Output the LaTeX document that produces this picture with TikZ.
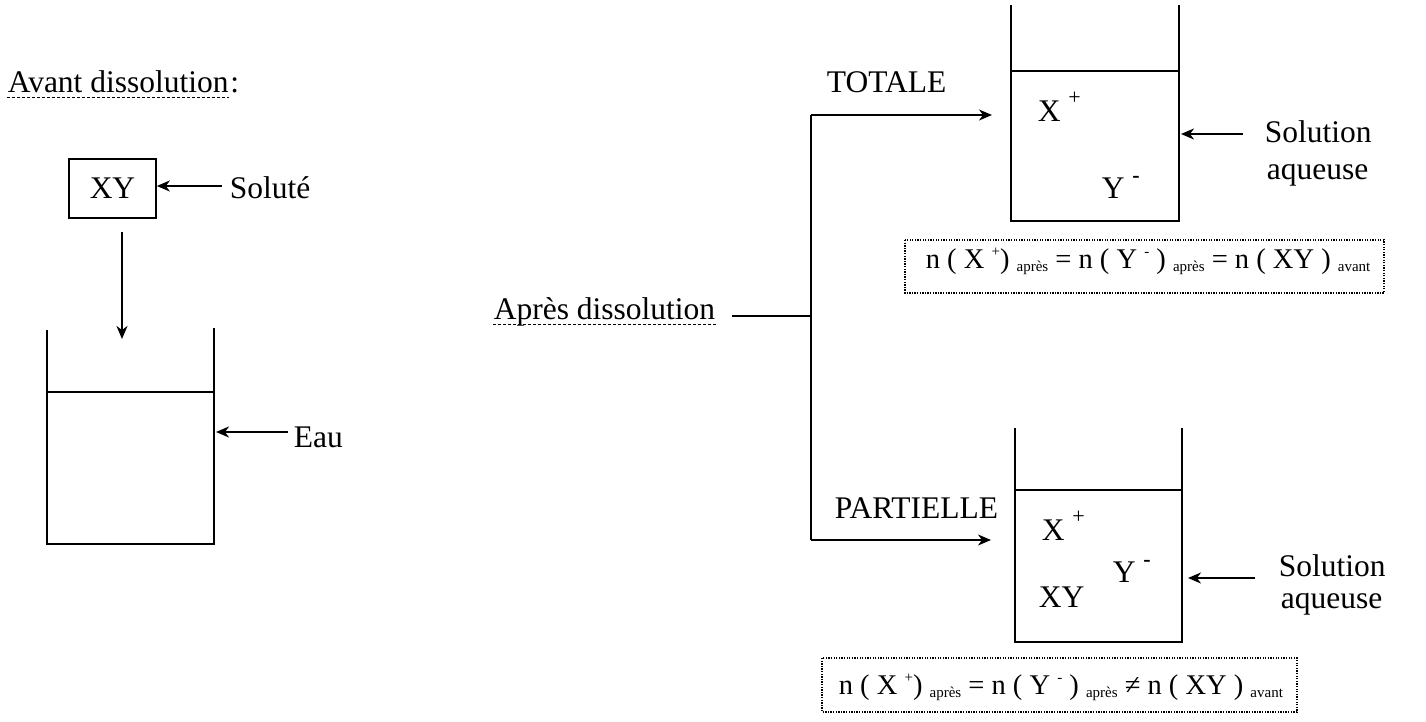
\documentclass[tikz,border=0pt]{standalone}
\usepackage{fontspec}
\setmainfont{Liberation Serif}
\usetikzlibrary{arrows.meta}
\newcommand{\fsupB}[1]{\raisebox{12pt}{\fontsize{15}{15}\selectfont #1}}
\newcommand{\fsubB}[1]{\raisebox{-3pt}{\fontsize{15}{15}\selectfont #1}}
\newcommand{\ionp}{\raisebox{17pt}{\fontsize{22}{22}\selectfont +}}
\newcommand{\ionm}{\raisebox{16pt}{\fontsize{22}{22}\selectfont\bfseries -}}
\begin{document}
\begin{tikzpicture}[x=1pt,y=-1pt,line width=1.7pt,
  txt/.style={anchor=base west,inner sep=0pt,font=\fontsize{31.5}{37}\selectfont},
  ftxt/.style={anchor=base west,inner sep=0pt,font=\fontsize{28.5}{34}\selectfont},
  arr/.style={-{Stealth[length=13pt,width=11pt,inset=4pt]}},
  ul/.style={line width=1pt,dash pattern=on 3pt off 2pt},
  dotbox/.style={line width=1.3pt,dash pattern=on 1.3pt off 1.3pt}]
\useasboundingbox (0,0) rectangle (1426,722);

% ---------- left part ----------
\node[txt] (avant) at (7,93) {Avant dissolution};
\node[txt] (colon) at (avant.base east) {:};
\draw[ul] ([yshift=-5pt]avant.base west) -- ([yshift=-5pt]avant.base east);

\node[draw,minimum width=87pt,minimum height=59pt,inner sep=0pt,
  font=\fontsize{31.5}{37}\selectfont] (xy) at (112.5,188.5) {XY};
\node[txt] (solute) at (229,198) {Soluté};
\coordinate (s0) at (222,186);
\draw[arr] (s0) -- (s0 -| xy.east);

\coordinate (d0) at (122,232);
\coordinate (d1) at (122,339);
\draw[arr] (d0) -- (d1);

\coordinate (b1tl) at (47,330);
\coordinate (b1tr) at (214,328);
\coordinate (b1bl) at (47,544);
\coordinate (b1br) at (214,544);
\draw (b1tl) -- (b1bl) -- (b1br) -- (b1tr);
\draw (47,392) -- (214,392);

\node[txt] (eau) at (293,447) {Eau};
\coordinate (e0) at (288,432);
\draw[arr] (e0) -- (216,432);

% ---------- right part ----------
\node[txt] (apres) at (493,319) {Après dissolution};
\draw[ul] ([yshift=-5pt]apres.base west) -- ([yshift=-5pt]apres.base east);
\coordinate (j0) at (732,316);
\coordinate (j1) at (811,316);
\draw (j0) -- (j1);
\coordinate (vt) at (811,115);
\coordinate (vb) at (811,540);
\draw (vt) -- (vb);

\node[txt] (totale) at (826,93) {TOTALE};
\node[txt] (partielle) at (834,518) {PARTIELLE};

% top beaker
\coordinate (b2tl) at (1011,5);
\coordinate (b2tr) at (1179,5);
\draw (b2tl) -- (1011,221) -- (1179,221) -- (b2tr);
\draw (1011,71) -- (1179,71);
\draw[arr] (vt) -- (992,115);
\node[txt] (x2) at (1037,122) {X \ionp};
\node[txt] (y2) at (1101,198) {Y \ionm};
\node[txt] (sol2a) at (1264,143) {Solution};
\node[txt] (sol2b) at (1266,180) {aqueuse};
\coordinate (a2) at (1243,134);
\draw[arr] (a2) -- (1181,134);

% bottom beaker
\coordinate (b3tl) at (1015,428);
\coordinate (b3tr) at (1182,428);
\draw (b3tl) -- (1015,642) -- (1182,642) -- (b3tr);
\draw (1015,490) -- (1182,490);
\draw[arr] (vb) -- (991,540);
\node[txt] (x3) at (1041,540) {X \ionp};
\node[txt] (y3) at (1112,582) {Y \ionm};
\node[txt] (xy3) at (1038,607) {XY};
\node[txt] (sol3a) at (1278,576) {Solution};
\node[txt] (sol3b) at (1280,608) {aqueuse};
\coordinate (a3) at (1255,578);
\draw[arr] (a3) -- (1188,578);

% formula boxes
\draw[dotbox] (905,240) rectangle (1384,293);
\node[ftxt] (f1) at (925,268)
  {n ( X \fsupB{+}) \fsubB{après} = n ( Y \fsupB{-} ) \fsubB{après} = n ( XY ) \fsubB{avant}};
\draw[dotbox] (822,658) rectangle (1297,712);
\node[ftxt] (f2) at (838,694)
  {n ( X \fsupB{+}) \fsubB{après} = n ( Y \fsupB{-} ) \fsubB{après} ≠ n ( XY ) \fsubB{avant}};
\end{tikzpicture}
\end{document}
